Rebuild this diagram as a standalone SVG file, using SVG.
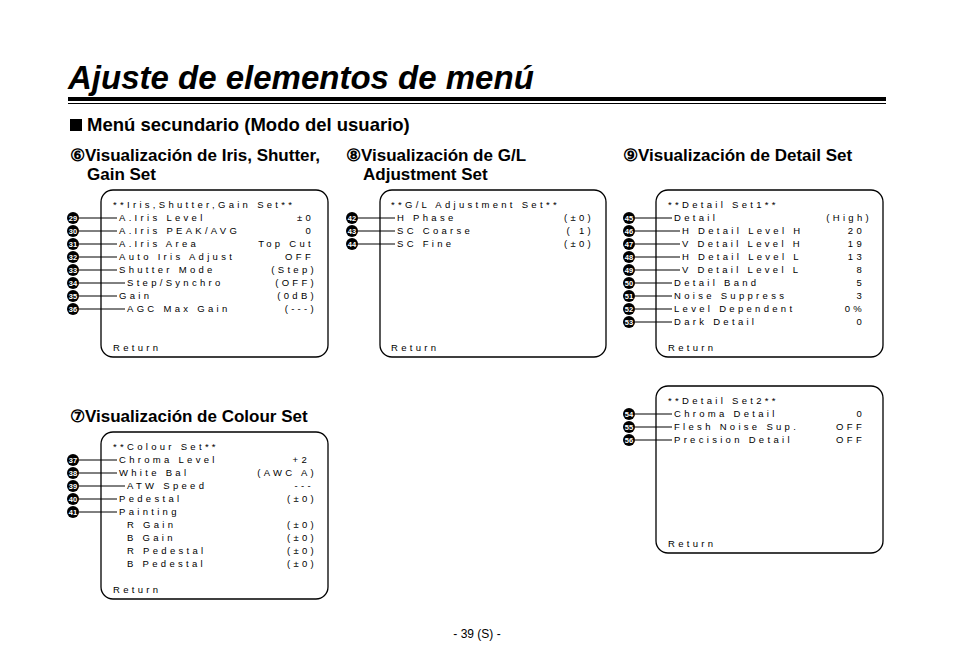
<svg xmlns="http://www.w3.org/2000/svg" width="954" height="672" viewBox="0 0 954 672">
<style>
.h{font-family:"Liberation Sans",Arial,sans-serif;font-weight:bold;fill:#000}
.m{font-family:"Liberation Sans",Arial,sans-serif;font-size:9.5px;letter-spacing:3.3px;fill:#000}
.v{font-family:"Liberation Sans",Arial,sans-serif;font-size:9.5px;letter-spacing:3.3px;fill:#000;text-anchor:end}
.box{fill:#fff;stroke:#000;stroke-width:1.3}
.ln{stroke:#000;stroke-width:1}
.n{font-family:"Liberation Sans",Arial,sans-serif;font-size:7.5px;font-weight:bold;fill:#fff;text-anchor:middle}
</style>
<rect width="954" height="672" fill="#fff"/>
<text x="68" y="89" class="h" font-size="33" font-style="italic">Ajuste de elementos de menú</text>
<rect x="68" y="97" width="818" height="4" fill="#000"/>
<rect x="68" y="103" width="818" height="1" fill="#000"/>
<rect x="70" y="119" width="12" height="12" fill="#000"/>
<text x="87" y="131" class="h" font-size="18.5">Menú secundario (Modo del usuario)</text>
<text x="70" y="161" class="h" font-size="17">⑥Visualización de Iris, Shutter,</text>
<text x="87" y="180" class="h" font-size="17">Gain Set</text>
<text x="346" y="161" class="h" font-size="17">⑧Visualización de G/L</text>
<text x="363" y="180" class="h" font-size="17">Adjustment Set</text>
<text x="623" y="161" class="h" font-size="17">⑨Visualización de Detail Set</text>
<text x="70" y="422" class="h" font-size="17">⑦Visualización de Colour Set</text>
<text x="477" y="638" font-family="Liberation Sans,Arial,sans-serif" font-size="12" text-anchor="middle">- 39 (S) -</text>

<g id="panel-iris">
<rect class="box" x="101" y="190" width="227" height="167" rx="12"/>
<text class="m" x="113" y="208">**Iris,Shutter,Gain Set**</text>
<text class="m" x="119" y="221">A.Iris Level</text><text class="v" x="314" y="221">±0</text>
<text class="m" x="119" y="234">A.Iris PEAK/AVG</text><text class="v" x="314" y="234">0</text>
<text class="m" x="119" y="247">A.Iris Area</text><text class="v" x="314" y="247">Top Cut</text>
<text class="m" x="119" y="260">Auto Iris Adjust</text><text class="v" x="314" y="260">OFF</text>
<text class="m" x="119" y="273">Shutter Mode</text><text class="v" x="317" y="273">(Step)</text>
<text class="m" x="127" y="286">Step/Synchro</text><text class="v" x="317" y="286">(OFF)</text>
<text class="m" x="119" y="299">Gain</text><text class="v" x="317" y="299">(0dB)</text>
<text class="m" x="127" y="312">AGC Max Gain</text><text class="v" x="317" y="312">(---)</text>
<text class="m" x="113" y="351">Return</text>
</g>
<g id="panel-gl">
<rect class="box" x="380" y="190" width="226" height="167" rx="12"/>
<text class="m" x="391" y="208">**G/L Adjustment Set**</text>
<text class="m" x="397" y="221">H Phase</text><text class="v" x="594" y="221">(±0)</text>
<text class="m" x="397" y="234">SC Coarse</text><text class="v" x="594" y="234">( 1)</text>
<text class="m" x="397" y="247">SC Fine</text><text class="v" x="594" y="247">(±0)</text>
<text class="m" x="391" y="351">Return</text>
</g>
<g id="panel-detail1">
<rect class="box" x="656" y="190" width="227" height="167" rx="12"/>
<text class="m" x="668" y="208">**Detail Set1**</text>
<text class="m" x="674" y="221">Detail</text><text class="v" x="872" y="221">(High)</text>
<text class="m" x="682" y="234">H Detail Level H</text><text class="v" x="865" y="234">20</text>
<text class="m" x="682" y="247">V Detail Level H</text><text class="v" x="865" y="247">19</text>
<text class="m" x="682" y="260">H Detail Level L</text><text class="v" x="865" y="260">13</text>
<text class="m" x="682" y="273">V Detail Level L</text><text class="v" x="865" y="273">8</text>
<text class="m" x="674" y="286">Detail Band</text><text class="v" x="865" y="286">5</text>
<text class="m" x="674" y="299">Noise Suppress</text><text class="v" x="865" y="299">3</text>
<text class="m" x="674" y="312">Level Dependent</text><text class="v" x="865" y="312">0%</text>
<text class="m" x="674" y="325">Dark Detail</text><text class="v" x="865" y="325">0</text>
<text class="m" x="668" y="351">Return</text>
</g>
<g id="panel-detail2">
<rect class="box" x="656" y="386" width="227" height="167" rx="12"/>
<text class="m" x="668" y="404">**Detail Set2**</text>
<text class="m" x="674" y="417">Chroma Detail</text><text class="v" x="865" y="417">0</text>
<text class="m" x="674" y="430">Flesh Noise Sup.</text><text class="v" x="865" y="430">OFF</text>
<text class="m" x="674" y="443">Precision Detail</text><text class="v" x="865" y="443">OFF</text>
<text class="m" x="668" y="547">Return</text>
</g>
<g id="panel-colour">
<rect class="box" x="101" y="432" width="227" height="167" rx="12"/>
<text class="m" x="113" y="450">**Colour Set**</text>
<text class="m" x="119" y="463">Chroma Level</text><text class="v" x="310" y="463">+2</text>
<text class="m" x="119" y="476">White Bal</text><text class="v" x="317" y="476">(AWC A)</text>
<text class="m" x="127" y="489">ATW Speed</text><text class="v" x="314" y="489">---</text>
<text class="m" x="119" y="502">Pedestal</text><text class="v" x="317" y="502">(±0)</text>
<text class="m" x="119" y="515">Painting</text>
<text class="m" x="127" y="528">R Gain</text><text class="v" x="317" y="528">(±0)</text>
<text class="m" x="127" y="541">B Gain</text><text class="v" x="317" y="541">(±0)</text>
<text class="m" x="127" y="554">R Pedestal</text><text class="v" x="317" y="554">(±0)</text>
<text class="m" x="127" y="567">B Pedestal</text><text class="v" x="317" y="567">(±0)</text>
<text class="m" x="113" y="593">Return</text>
</g>

<g id="connectors">
<path class="ln" d="M79 218H117M79 231H117M79 244H117M79 257H117M79 270H117M79 283H125M79 296H117M79 309H125
M79 460H117M79 473H117M79 486H125M79 499H117M79 512H117
M358 218H395M358 231H395M358 244H395
M635 218H672M635 231H680M635 244H680M635 257H680M635 270H680M635 283H672M635 296H672M635 309H672M635 322H672
M635 414H672M635 427H672M635 440H672"/>
</g>
<g id="markers">
<g id="m29"><circle cx="73" cy="218" r="6"/><text class="n" x="73" y="220.7">29</text></g>
<g id="m30"><circle cx="73" cy="231" r="6"/><text class="n" x="73" y="233.7">30</text></g>
<g id="m31"><circle cx="73" cy="244" r="6"/><text class="n" x="73" y="246.7">31</text></g>
<g id="m32"><circle cx="73" cy="257" r="6"/><text class="n" x="73" y="259.7">32</text></g>
<g id="m33"><circle cx="73" cy="270" r="6"/><text class="n" x="73" y="272.7">33</text></g>
<g id="m34"><circle cx="73" cy="283" r="6"/><text class="n" x="73" y="285.7">34</text></g>
<g id="m35"><circle cx="73" cy="296" r="6"/><text class="n" x="73" y="298.7">35</text></g>
<g id="m36"><circle cx="73" cy="309" r="6"/><text class="n" x="73" y="311.7">36</text></g>
<g id="m37"><circle cx="73" cy="460" r="6"/><text class="n" x="73" y="462.7">37</text></g>
<g id="m38"><circle cx="73" cy="473" r="6"/><text class="n" x="73" y="475.7">38</text></g>
<g id="m39"><circle cx="73" cy="486" r="6"/><text class="n" x="73" y="488.7">39</text></g>
<g id="m40"><circle cx="73" cy="499" r="6"/><text class="n" x="73" y="501.7">40</text></g>
<g id="m41"><circle cx="73" cy="512" r="6"/><text class="n" x="73" y="514.7">41</text></g>
<g id="m42"><circle cx="352" cy="218" r="6"/><text class="n" x="352" y="220.7">42</text></g>
<g id="m43"><circle cx="352" cy="231" r="6"/><text class="n" x="352" y="233.7">43</text></g>
<g id="m44"><circle cx="352" cy="244" r="6"/><text class="n" x="352" y="246.7">44</text></g>
<g id="m45"><circle cx="629" cy="218" r="6"/><text class="n" x="629" y="220.7">45</text></g>
<g id="m46"><circle cx="629" cy="231" r="6"/><text class="n" x="629" y="233.7">46</text></g>
<g id="m47"><circle cx="629" cy="244" r="6"/><text class="n" x="629" y="246.7">47</text></g>
<g id="m48"><circle cx="629" cy="257" r="6"/><text class="n" x="629" y="259.7">48</text></g>
<g id="m49"><circle cx="629" cy="270" r="6"/><text class="n" x="629" y="272.7">49</text></g>
<g id="m50"><circle cx="629" cy="283" r="6"/><text class="n" x="629" y="285.7">50</text></g>
<g id="m51"><circle cx="629" cy="296" r="6"/><text class="n" x="629" y="298.7">51</text></g>
<g id="m52"><circle cx="629" cy="309" r="6"/><text class="n" x="629" y="311.7">52</text></g>
<g id="m53"><circle cx="629" cy="322" r="6"/><text class="n" x="629" y="324.7">53</text></g>
<g id="m54"><circle cx="629" cy="414" r="6"/><text class="n" x="629" y="416.7">54</text></g>
<g id="m55"><circle cx="629" cy="427" r="6"/><text class="n" x="629" y="429.7">55</text></g>
<g id="m56"><circle cx="629" cy="440" r="6"/><text class="n" x="629" y="442.7">56</text></g>
</g>
</svg>
